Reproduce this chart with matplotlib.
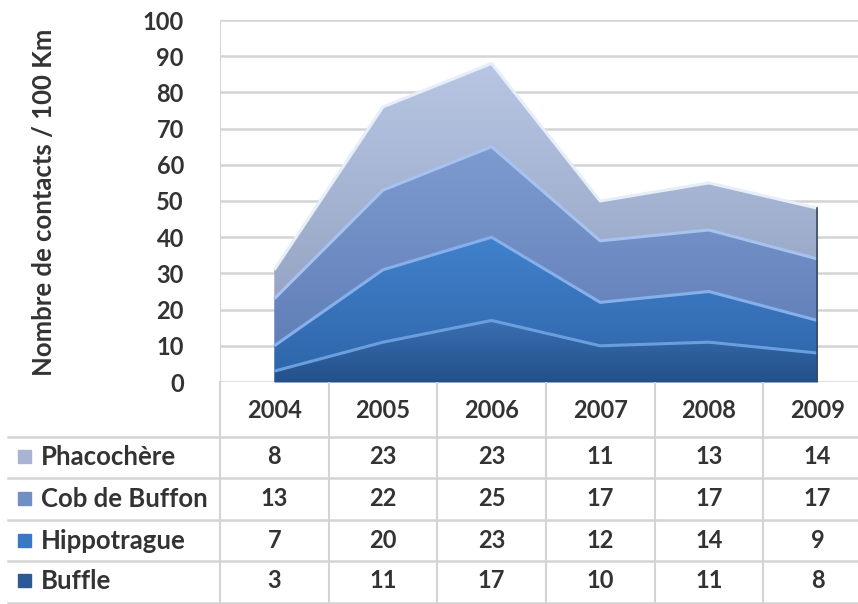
import numpy as np
import matplotlib.pyplot as plt
import matplotlib.transforms as mtransforms
from matplotlib.colors import LinearSegmentedColormap
from matplotlib.lines import Line2D

plt.rcParams['font.family'] = ['Lato', 'DejaVu Sans']
plt.rcParams['font.weight'] = 'bold'

years = ['2004', '2005', '2006', '2007', '2008', '2009']
buffle = [3, 11, 17, 10, 11, 8]
hippotrague = [7, 20, 23, 12, 14, 9]
cob = [13, 22, 25, 17, 17, 17]
phaco = [8, 23, 23, 11, 13, 14]

series = [('Buffle', buffle), ('Hippotrague', hippotrague),
          ('Cob de Buffon', cob), ('Phacochère', phaco)]
# (top colour, bottom colour, edge highlight)
styles = [('#3a6fb2', '#22508a', '#6a9ede'),
          ('#4181cc', '#2f66aa', '#86b0ec'),
          ('#7e9bd0', '#617fb8', '#a6c2f0'),
          ('#b8c6e4', '#97a5c5', '#e6eefa')]
legend_col = ['#a9b4d2', '#7090c4', '#3a78c2', '#2c5a94']
txt_c = '#333333'

W, H = 858, 604
fig = plt.figure(figsize=(W / 100, H / 100), dpi=100)
y0, y1 = 382, 20
x_left = 220
col_w = 108.5
c0 = 275
ax = fig.add_axes([x_left / W, 1 - y0 / H, 1 - x_left / W, (y0 - y1) / H])
ax.set_xlim(-0.5, (W - c0) / col_w)
ax.set_ylim(0, 100)
for s in ax.spines.values():
    s.set_visible(False)
ax.set_xticks([])
ax.set_yticks(range(0, 101, 10))
ax.tick_params(axis='y', length=0, pad=26, labelsize=17, labelcolor=txt_c)
for v in range(0, 101, 10):
    ax.axhline(v, color='#d4d4d4', lw=1.8, zorder=0)
ax.axvline(-0.5, color='#d4d4d4', lw=1.5, zorder=0)

x = np.arange(len(years))
base = np.zeros(len(years))
for (name, vals), (ctop, cbot, cedge) in zip(series, styles):
    top = base + np.array(vals)
    poly = ax.fill_between(x, base, top, color=cbot, lw=0, zorder=2)
    cmap = LinearSegmentedColormap.from_list(name, [cbot, ctop])
    grad = np.linspace(0, 1, 256).reshape(-1, 1)
    im = ax.imshow(grad, extent=[0, 5, base.min(), top.max()],
                   origin='lower', aspect='auto', cmap=cmap, zorder=3)
    im.set_clip_path(poly.get_paths()[0], transform=ax.transData)
    ax.plot(x, top, color=cedge, lw=2.2, zorder=4, solid_capstyle='butt')
    base = top
ax.plot([5, 5], [0, base[-1]], color='#3b4a66', lw=1.2, zorder=5)

# data table
tr = mtransforms.blended_transform_factory(ax.transData, fig.transFigure)
ypx = lambda p: 1 - p / H
grid_c = '#d4d4d4'
for p in [437, 478, 520, 561, 603]:
    fig.add_artist(Line2D([8 / W, 1], [ypx(p), ypx(p)], color=grid_c, lw=1.8))
for i in range(len(years)):
    ax.add_artist(Line2D([i - 0.5, i - 0.5], [ypx(y0), ypx(H)], color=grid_c,
                         lw=1.5, transform=tr, clip_on=False))
for i, yr in enumerate(years):
    ax.text(i, ypx(410), yr, transform=tr, ha='center', va='center',
            fontsize=17, color=txt_c, clip_on=False)
rows = list(reversed(series))
row_y = [457, 499, 541, 581]
for (name, vals), py, mc in zip(rows, row_y, legend_col):
    fig.text(41 / W, ypx(py), name, ha='left', va='center', fontsize=18.5,
             color=txt_c)
    fig.patches.append(plt.Rectangle((18 / W, ypx(py + 6)), 13 / W, 13 / H,
                                     transform=fig.transFigure, color=mc,
                                     figure=fig))
    for i, v in enumerate(vals):
        ax.text(i, ypx(py), str(v), transform=tr, ha='center', va='center',
                fontsize=17, color=txt_c, clip_on=False)
fig.text(44 / W, 1 - 202 / H, 'Nombre de contacts / 100 Km', rotation=90,
         ha='center', va='center', fontsize=18.5, color=txt_c)

fig.savefig('out.png', dpi=100)
